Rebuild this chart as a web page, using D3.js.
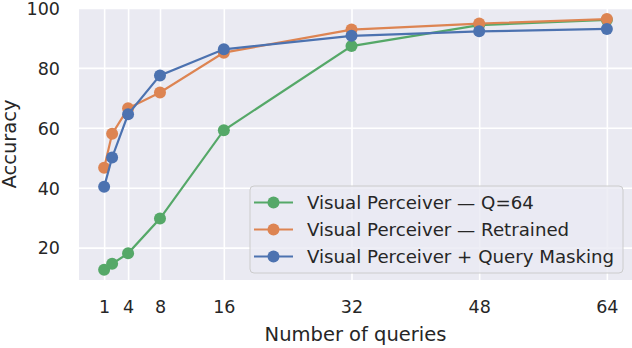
<!DOCTYPE html>
<html><head><meta charset="utf-8">
<script src="https://cdn.jsdelivr.net/npm/d3@7"></script>
<style>body{margin:0;background:#fff}svg{display:block}text{font-family:"DejaVu Sans",sans-serif;fill:#262626}</style>
</head><body>
<svg id="c" width="632" height="348"></svg>
<script>
const queries = [1, 2, 4, 8, 16, 32, 48, 64];
const xTicks = [1, 4, 8, 16, 32, 48, 64];
const yTicks = [20, 40, 60, 80, 100];
const seriesNames = ["Visual Perceiver — Q=64", "Visual Perceiver — Retrained", "Visual Perceiver + Query Masking"];
const seriesColors = ["#55A868", "#DD8452", "#4C72B0"];
const q64 = [12.6, 14.6, 18.1, 29.7, 59.2, 87.3, 94.3, 96.0];
const retrained = [46.7, 58.0, 66.5, 71.8, 85.1, 92.8, 94.8, 96.3];
const masking = [40.3, 50.1, 64.5, 77.5, 86.2, 90.7, 92.2, 93.0];
const seriesValues = [q64, retrained, masking];

const svg = d3.select("#c");
const L = 79, R = 632, T = 8, B = 280;
const x = d3.scaleLinear().domain([-2.15, 67.15]).range([L, R]);
const y = d3.scaleLinear().domain([9.2, 100]).range([B, T]);

svg.append("rect").attr("x", L).attr("y", T).attr("width", R - L).attr("height", B - T).attr("fill", "#EAEAF2");

const xAxis = svg.append("g").attr("transform", `translate(0,${B})`)
  .call(d3.axisBottom(x).tickValues(xTicks).tickSize(-(B - T)).tickPadding(21));
const yAxis = svg.append("g").attr("transform", `translate(${L},0)`)
  .call(d3.axisLeft(y).tickValues(yTicks).tickSize(-(R - L)).tickPadding(19));
[xAxis, yAxis].forEach(g => {
  g.select(".domain").remove();
  g.selectAll(".tick line").attr("stroke", "#fff").attr("stroke-width", 1.6);
  g.selectAll(".tick text").attr("font-size", 17.5).attr("fill", "#262626").attr("font-family", "DejaVu Sans");
});
yAxis.selectAll(".tick text").attr("dy", "0.36em");

const line = d3.line().x((d, i) => x(queries[i])).y(d => y(d));
seriesValues.forEach((vals, s) => {
  const g = svg.append("g");
  g.append("path").datum(vals).attr("d", line).attr("fill", "none")
    .attr("stroke", seriesColors[s]).attr("stroke-width", 2.2);
  g.selectAll("circle").data(vals).join("circle")
    .attr("cx", (d, i) => x(queries[i])).attr("cy", d => y(d)).attr("r", 6)
    .attr("fill", seriesColors[s]);
});

svg.append("text").attr("x", (L + R) / 2).attr("y", 340.5).attr("text-anchor", "middle")
  .attr("font-size", 19.5).text("Number of queries");
svg.append("text").attr("transform", `translate(16,${(T + B) / 2}) rotate(-90)`).attr("text-anchor", "middle")
  .attr("font-size", 19.5).text("Accuracy");

// legend
const lg = svg.append("g");
lg.append("rect").attr("x", 250).attr("y", 186).attr("width", 373).attr("height", 87).attr("rx", 4)
  .attr("fill", "#EAEAF2").attr("fill-opacity", 0.8).attr("stroke", "#CCCCCC").attr("stroke-width", 1);
seriesNames.forEach((n, s) => {
  const cy = 202.5 + s * 27;
  lg.append("line").attr("x1", 254).attr("x2", 293).attr("y1", cy).attr("y2", cy)
    .attr("stroke", seriesColors[s]).attr("stroke-width", 2.2);
  lg.append("circle").attr("cx", 273.5).attr("cy", cy).attr("r", 6).attr("fill", seriesColors[s]);
  lg.append("text").attr("x", 307).attr("y", cy).attr("dy", "0.36em").attr("font-size", 18.2).text(n);
});
</script>
</body></html>
